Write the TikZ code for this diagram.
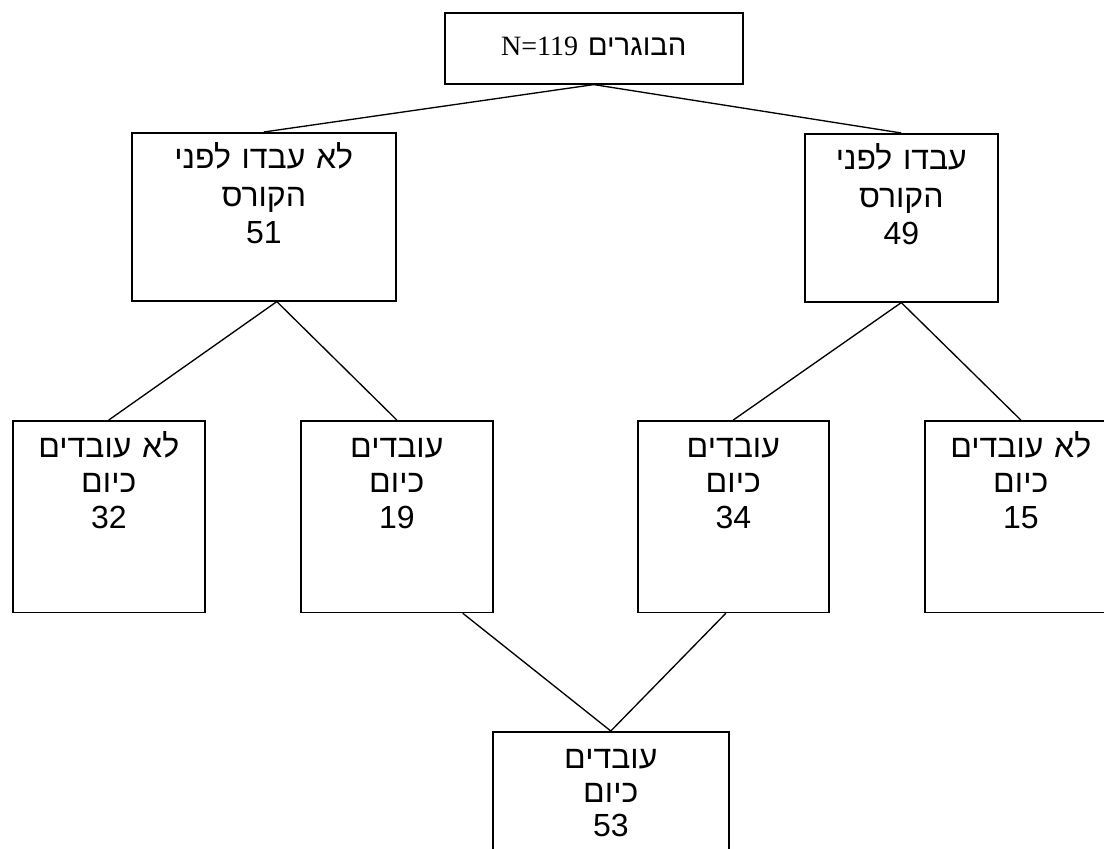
\documentclass[tikz,border=0pt]{standalone}
\usepackage{fontspec}
\setmainfont{Liberation Sans}
\newfontfamily\hebfont[Script=Hebrew]{Liberation Sans}
\newfontfamily\latinserif{Liberation Serif}
\TeXXeTstate=1
\begin{document}
\begin{tikzpicture}[x=0.75pt,y=-0.75pt]
\clip (0,0) rectangle (1104,849);
\fill[white] (0,0) rectangle (1104,849);

%boxes
\tikzstyle{toptype}  = [draw=black, line width=1.2pt, rectangle, anchor=north west, inner sep=0pt, text centered, text width=223.5pt, text height=32.25pt, text depth=21pt, font=\hebfont\fontsize{22}{26}\selectfont]
\tikzstyle{midtype}  = [draw=black, line width=1.2pt, rectangle, anchor=north west, inner sep=0pt, text centered, text height=27pt, text depth=99pt, font=\hebfont\fontsize{24}{28}\selectfont]
\tikzstyle{leaftype} = [draw=black, line width=1.2pt, rectangle, anchor=north west, inner sep=0pt, text centered, text width=144pt, text height=27.5pt, text depth=116.25pt, font=\hebfont\fontsize{24}{26.5}\selectfont]
\tikzstyle{endtype}  = [draw=black, line width=1.2pt, rectangle, anchor=north west, inner sep=0pt, text centered, text width=177pt, text height=27.5pt, text depth=100pt, font=\hebfont\fontsize{24}{25.5}\selectfont]
\tikzstyle{link}     = [draw=black, line width=1pt]

\node (root)    [toptype]                     at (444,12)  {\beginR הבוגרים \beginL{\latinserif\fontsize{21}{26}\selectfont N=119}\endL\endR};
\node (before)  [midtype, text width=198pt]   at (131,132) {\beginR לא עבדו לפני\endR\\ \beginR הקורס\endR\\ 51};
\node (worked)  [midtype, text width=144.75pt] at (804,133) {\beginR עבדו לפני\endR\\ \beginR הקורס\endR\\ 49};
\node (notnow1) [leaftype]                    at (12,420)  {\beginR לא עובדים\endR\\ \beginR כיום\endR\\ 32};
\node (now1)    [leaftype]                    at (300,420) {\beginR עובדים\endR\\ \beginR כיום\endR\\ 19};
\node (now2)    [leaftype, text width=143.25pt] at (637,420) {\beginR עובדים\endR\\ \beginR כיום\endR\\ 34};
\node (notnow2) [leaftype]                    at (924,420) {\beginR לא עובדים\endR\\ \beginR כיום\endR\\ 15};
\node (total)   [endtype]                     at (492,731) {\beginR עובדים\endR\\ \beginR כיום\endR\\ 53};

\draw [link] (root.south) -- (before.north);
\draw [link] (root.south) -- (worked.north);
\draw [link] ([xshift=9.75pt]before.south) -- (notnow1.north);
\draw [link] ([xshift=9.75pt]before.south) -- (now1.north);
\draw [link] (worked.south) -- (now2.north);
\draw [link] (worked.south) -- (notnow2.north);
\draw [link] ([xshift=49.5pt]now1.south) -- (total.north);
\draw [link] ([xshift=-5.6pt]now2.south) -- (total.north);

\end{tikzpicture}
\end{document}
